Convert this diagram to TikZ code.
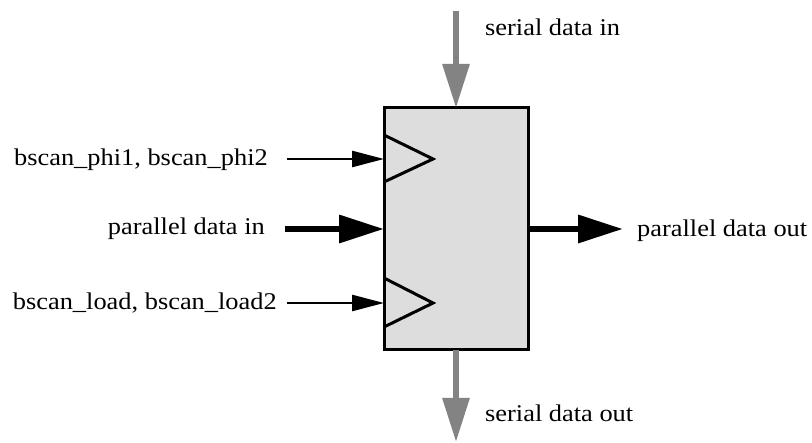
\documentclass[tikz,border=0pt]{standalone}
\usepackage{fontspec}
\setmainfont{Liberation Serif}[FakeStretch=1.1]
\usetikzlibrary{arrows.meta}
\definecolor{boxgray}{HTML}{DDDDDD}
\definecolor{arrgray}{HTML}{838383}
\begin{document}
\begin{tikzpicture}[x=1pt,y=-1pt,
  lbl/.style={inner sep=0pt,font=\fontsize{24}{28}\selectfont},
  regbox/.style={draw=black,line width=3pt,fill=boxgray,minimum width=144pt,minimum height=242pt,inner sep=0pt,outer sep=0pt},
  thinarrow/.style={line width=2.6pt,-{Triangle[length=32pt,width=16pt]}},
  thickarrow/.style={line width=6.5pt,-{Triangle[length=45pt,width=27pt]}},
  grayarrow/.style={draw=arrgray,line width=6pt,-{Triangle[length=44pt,width=26pt]}},
  clk/.style={line width=3pt,line join=miter}]
\useasboundingbox (0,0) rectangle (812,443);
\node[regbox] (box) at (456,229) {};
% clock triangles
\draw[clk] (384,135) -- (433,159) -- (384,182);
\draw[clk] (384,278) -- (433,303) -- (384,327);
% labels
\node[lbl,anchor=base west] (tsin) at (485,36) {serial data in};
\node[lbl,anchor=base west] (tsout) at (485,422) {serial data out};
\node[lbl,anchor=base east] (tphi) at (268,166) {bscan\_phi1, bscan\_phi2};
\node[lbl,anchor=base east] (tpin) at (265,235) {parallel data in};
\node[lbl,anchor=base east] (tload) at (277,310) {bscan\_load, bscan\_load2};
\node[lbl,anchor=base west] (tpout) at (637,237) {parallel data out};
% arrow endpoints
\coordinate (sinstart) at (456,11);
\coordinate (soutend) at (456,442);
\coordinate (phistart) at (287,159);
\coordinate (pinstart) at (285,229);
\coordinate (loadstart) at (287,303);
\coordinate (poutend) at (623,229);
% connectors
\draw[grayarrow] (sinstart) -- (box.north);
\draw[grayarrow] (box.south) -- (soutend);
\draw[thinarrow] (phistart) -- (phistart -| box.west);
\draw[thickarrow] (pinstart) -- (pinstart -| box.west);
\draw[thinarrow] (loadstart) -- (loadstart -| box.west);
\draw[thickarrow] (poutend -| box.east) -- (poutend);
\end{tikzpicture}
\end{document}
